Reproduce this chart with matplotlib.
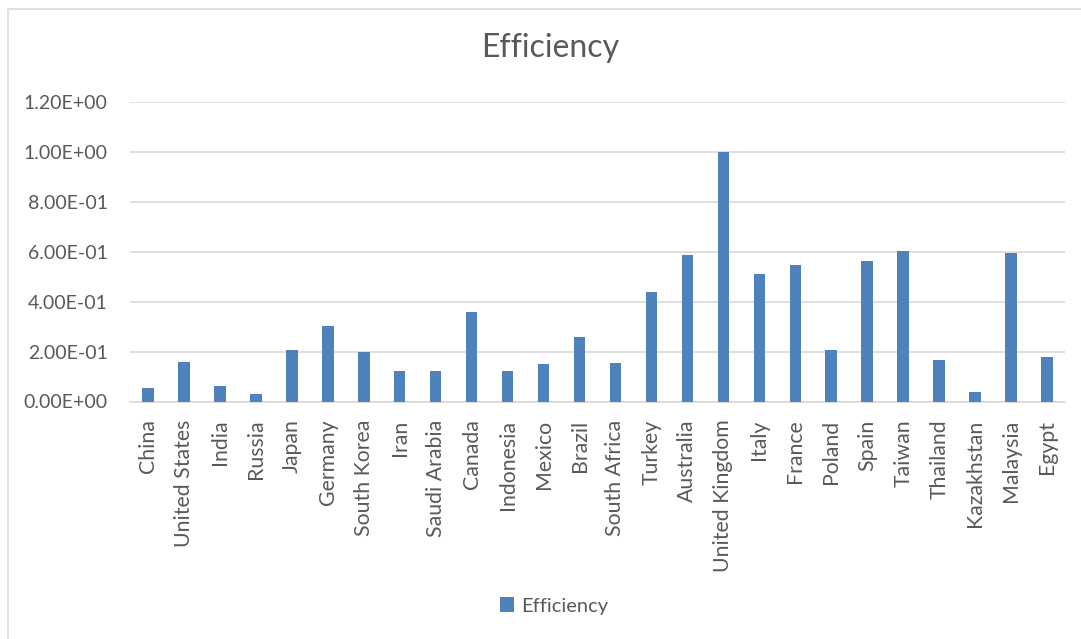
import matplotlib
matplotlib.use('Agg')
import matplotlib.pyplot as plt
from matplotlib.patches import Rectangle
from matplotlib.ticker import FuncFormatter

# Data.
countries = ['China', 'United States', 'India', 'Russia', 'Japan', 'Germany',
             'South Korea', 'Iran', 'Saudi Arabia', 'Canada', 'Indonesia',
             'Mexico', 'Brazil', 'South Africa', 'Turkey', 'Australia',
             'United Kingdom', 'Italy', 'France', 'Poland', 'Spain', 'Taiwan',
             'Thailand', 'Kazakhstan', 'Malaysia', 'Egypt']
efficiency = [0.055, 0.160, 0.063, 0.032, 0.206, 0.303, 0.200, 0.123, 0.122,
              0.358, 0.122, 0.152, 0.260, 0.153, 0.440, 0.585, 1.000, 0.511,
              0.545, 0.208, 0.562, 0.605, 0.165, 0.038, 0.593, 0.177]
y_ticks = [0.0, 0.2, 0.4, 0.6, 0.8, 1.0, 1.2]

BAR_COLOR = '#4F81BD'
TEXT_COLOR = '#595959'
GRID_COLOR = '#D9D9D9'

plt.rcParams['font.family'] = ['Lato', 'DejaVu Sans']

W, H = 1081, 639
fig = plt.figure(figsize=(W / 100, H / 100), dpi=100)
ax = fig.add_axes([130 / W, 1 - 401.5 / H, (1065 - 130) / W, (401.5 - 102) / H])

x = range(len(countries))
bars = ax.bar(x, efficiency, width=0.32, color=BAR_COLOR, label='Efficiency',
              zorder=3)

ax.set_xlim(-0.5, len(countries) - 0.5)
ax.set_ylim(0, 1.2)
ax.set_yticks(y_ticks)
ax.yaxis.set_major_formatter(FuncFormatter(lambda v, p: format(v, '.2E')))
ax.set_xticks(list(x))
ax.set_xticklabels(countries, rotation=90)

ax.grid(axis='y', color=GRID_COLOR, linewidth=1.2, zorder=0)
for side in ['top', 'right', 'left']:
    ax.spines[side].set_visible(False)
ax.spines['bottom'].set_color(GRID_COLOR)
ax.spines['bottom'].set_linewidth(1.2)
ax.tick_params(axis='both', length=0, labelcolor=TEXT_COLOR)
ax.tick_params(axis='y', pad=16, labelsize=14)
ax.tick_params(axis='x', pad=13, labelsize=15.3)

# Title and legend, positioned like the Excel chart.
fig.text(550 / W, 1 - 57 / H, 'Efficiency', ha='center', va='baseline',
         fontsize=23, color=TEXT_COLOR)
fig.legend(handles=[bars], loc='center', bbox_to_anchor=(554 / W, 1 - 606 / H),
           frameon=False, fontsize=14.5, labelcolor=TEXT_COLOR,
           handlelength=0.7, handleheight=0.7, handletextpad=0.35)

# Light chart-area border (clipped on the right and bottom in the reference).
fig.patches.append(Rectangle((8 / W, -0.1), 1.2, 1.1 - 9 / H,
                             transform=fig.transFigure, fill=False,
                             edgecolor=GRID_COLOR, linewidth=1.2))

fig.savefig('out.png', dpi=100, facecolor='white')
